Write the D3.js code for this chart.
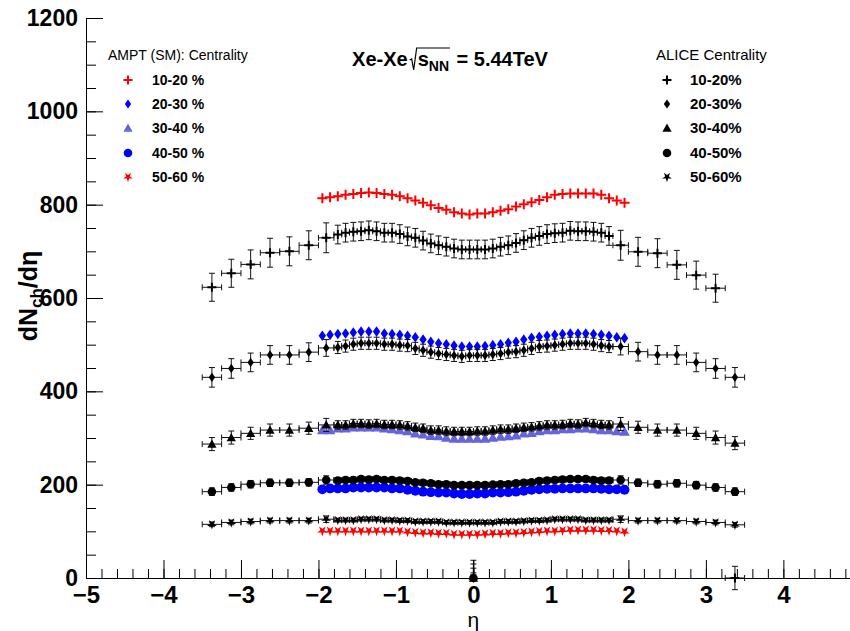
<!DOCTYPE html>
<html>
<head>
<meta charset="utf-8">
<script src="https://cdn.jsdelivr.net/npm/d3@7"></script>
<style>
  html, body { margin: 0; padding: 0; background: #fff; }
  svg { display: block; font-family: "Liberation Sans", Arial, sans-serif; }
</style>
</head>
<body>
<div id="chart"></div>
<script>
// pseudorapidity bins
const etaAmpt = [-1.95,-1.85,-1.75,-1.65,-1.55,-1.45,-1.35,-1.25,-1.15,-1.05,-0.95,-0.85,-0.75,-0.65,-0.55,-0.45,-0.35,-0.25,-0.15,-0.05,
                 0.05,0.15,0.25,0.35,0.45,0.55,0.65,0.75,0.85,0.95,1.05,1.15,1.25,1.35,1.45,1.55,1.65,1.75,1.85,1.95];
const etaAlice = [-3.375,-3.125,-2.875,-2.625,-2.375,-2.125,-1.9,
                  -1.75,-1.65,-1.55,-1.45,-1.35,-1.25,-1.15,-1.05,-0.95,-0.85,-0.75,-0.65,-0.55,-0.45,-0.35,-0.25,-0.15,-0.05,
                  0.05,0.15,0.25,0.35,0.45,0.55,0.65,0.75,0.85,0.95,1.05,1.15,1.25,1.35,1.45,1.55,1.65,1.75,
                  1.9,2.125,2.375,2.625,2.875,3.125,3.375];
const exAlice = [0.125,0.125,0.125,0.125,0.125,0.125,0.1,
                 0.05,0.05,0.05,0.05,0.05,0.05,0.05,0.05,0.05,0.05,0.05,0.05,0.05,0.05,0.05,0.05,0.05,0.05,
                 0.05,0.05,0.05,0.05,0.05,0.05,0.05,0.05,0.05,0.05,0.05,0.05,0.05,0.05,0.05,0.05,0.05,0.05,
                 0.1,0.125,0.125,0.125,0.125,0.125,0.125];

// AMPT (SM)
const ampt1020 = [814,816,818,821,823,825,826,825,823,821,818,814,809,804,799,793,789,784,781,779,
                  781,781,784,787,790,796,801,805,810,816,821,823,824,824,824,824,821,814,809,804];
const ampt2030 = [519,521,523,524,526,528,528,528,524,523,521,519,516,511,506,503,501,498,496,496,
                  496,497,499,501,504,506,511,515,517,519,521,523,524,524,524,523,521,519,516,514];
const ampt3040 = [317,317,321,321,323,323,323,323,321,319,317,315,310,308,305,304,301,299,299,299,
                  299,299,301,303,304,306,310,311,315,317,317,319,319,321,321,319,317,317,315,314];
const ampt4050 = [190,192,192,192,194,194,194,194,194,192,192,189,187,185,184,183,183,181,180,180,
                  181,181,183,183,184,185,187,189,190,191,191,192,192,192,192,192,191,190,190,189];
const ampt5060 = [101,101,101,101,101,101,101,101,101,101,101,99,98,97,97,96,96,94,94,94,
                  94,95,96,96,97,97,98,99,100,101,101,102,103,103,103,103,102,102,101,99];

// ALICE
const alice1020 = [623,653,672,697,700,713,729,
                   736,740,742,743,745,743,740,740,737,732,729,723,717,713,710,706,704,704,
                   704,704,706,710,713,718,724,729,733,737,739,740,744,743,743,742,740,733,
                   713,699,696,671,649,621,0];
const err1020 = [30,30,31,31,31,31,32,
                 20,20,20,20,20,20,20,20,20,20,20,20,20,20,20,20,20,20,
                 20,20,20,20,20,20,20,20,20,20,20,20,20,20,20,20,20,20,
                 32,31,31,31,30,30,25];
const alice2030 = [430,449,462,478,478,484,493,
                   494,497,501,503,503,503,501,501,499,498,492,488,484,481,479,477,475,477,
                   477,477,479,481,484,485,488,492,496,497,499,501,503,503,503,501,498,496,
                   496,485,478,478,462,449,430];
const err2030 = [21,21,20,20,20,20,18,
                 13,13,13,13,13,13,13,13,13,13,13,13,13,13,13,13,13,13,
                 13,13,13,13,13,13,13,13,13,13,13,13,13,13,13,13,13,13,
                 18,20,20,20,20,21,21];
const alice3040 = [287,301,310,317,317,321,328,
                   328,328,331,331,330,331,329,329,328,326,323,321,317,317,315,314,314,314,
                   315,315,317,319,319,321,323,324,326,328,328,329,331,330,333,331,329,328,
                   330,323,317,317,310,301,289];
const err3040 = [14,14,13,13,13,13,14,
                 9,9,9,9,9,9,9,9,9,9,9,9,9,9,9,9,9,9,
                 9,9,9,9,9,9,9,9,9,9,9,9,9,9,9,9,9,9,
                 14,13,13,13,13,14,14];
const alice4050 = [185,194,201,204,204,205,210,
                   209,210,210,212,211,212,210,210,209,208,205,204,203,201,201,199,199,199,
                   199,199,200,201,201,203,204,205,208,209,210,211,212,212,212,210,209,209,
                   210,204,201,203,199,194,185];
const err4050 = [8,8,8,8,8,8,9,
                 6,6,6,6,6,6,6,6,6,6,6,6,6,6,6,6,6,6,
                 6,6,6,6,6,6,6,6,6,6,6,6,6,6,6,6,6,6,
                 9,8,8,8,8,8,8];
const alice5060 = [115,119,121,123,123,123,126,
                   124,124,124,126,126,126,124,124,123,123,121,121,121,121,119,119,119,119,
                   119,119,119,121,121,121,122,123,123,124,126,126,126,126,124,124,124,124,
                   126,123,123,123,121,119,114];
const err5060 = [5,5,5,5,5,5,7,
                 4,4,4,4,4,4,4,4,4,4,4,4,4,4,4,4,4,4,
                 4,4,4,4,4,4,4,4,4,4,4,4,4,4,4,4,4,4,
                 7,5,5,5,5,5,5];

// empty ALICE points sitting on eta = 0
const zeroEta = [0, 0, 0, 0];
const zeroVal = [0, 0, 0, 0];
const zeroErr = [38, 30, 21, 11];
const zeroSeries = ['20-30%', '30-40%', '40-50%', '50-60%'];

const amptLabels = ['10-20 %', '20-30 %', '30-40 %', '40-50 %', '50-60 %'];
const aliceLabels = ['10-20%', '20-30%', '30-40%', '40-50%', '50-60%'];
const xTicks = [-5, -4, -3, -2, -1, 0, 1, 2, 3, 4];
const yTicks = [0, 200, 400, 600, 800, 1000, 1200];

const w = 850;
const h = 631;
const markers = ['plus', 'diamond', 'triangle', 'circle', 'star'];
const amptColors = ['#ff0000', '#0000ff', '#6464dc', '#0000ff', '#ff0000'];

const svg = d3.select('#chart').append('svg')
  .attr('width', w).attr('height', h);

const x = d3.scaleLinear().domain([-5, 4.86]).range([86, 850]);
const y = d3.scaleLinear().domain([0, 1200]).range([578, 18]);

function marker(g, type, color, big) {
  const s = big ? 1.15 : 1;
  if (type === 'plus') {
    const a = (big ? 5 : 4.5);
    g.append('path').attr('d', `M${-a},0H${a}M0,${-a}V${a}`)
      .attr('stroke', color).attr('stroke-width', 2).attr('fill', 'none');
  } else if (type === 'diamond') {
    const dw = 3.2 * s, dh = 4.6 * s;
    g.append('path').attr('d', `M0,${-dh}L${dw},0L0,${dh}L${-dw},0Z`).attr('fill', color);
  } else if (type === 'triangle') {
    const t = 4.6 * s;
    g.append('path').attr('d', `M0,${-t}L${t},${t * 0.8}L${-t},${t * 0.8}Z`).attr('fill', color);
  } else if (type === 'circle') {
    g.append('circle').attr('r', 4.3 * s).attr('fill', color);
  } else if (type === 'star') {
    g.append('path').attr('d', d3.symbol(d3.symbolStar, 30 * s)())
      .attr('transform', 'rotate(180)').attr('fill', color);
  }
}

function drawAmpt(vals, idx) {
  const g = svg.append('g');
  etaAmpt.forEach((e, i) => {
    const p = g.append('g').attr('transform', `translate(${x(e)},${y(vals[i])})`);
    marker(p, markers[idx], amptColors[idx], true);
  });
}

function drawAlice(vals, errs, idx) {
  const g = svg.append('g');
  const eb = g.append('g').attr('stroke', '#111').attr('stroke-width', 1).attr('fill', 'none');
  etaAlice.forEach((e, i) => {
    const cx = x(e), cy = y(vals[i]);
    const x0 = x(e - exAlice[i]), x1 = x(e + exAlice[i]);
    const y0 = y(vals[i] - errs[i]), y1 = y(vals[i] + errs[i]);
    eb.append('path').attr('d',
      `M${x0},${cy}H${x1}M${x0},${cy - 3}V${cy + 3}M${x1},${cy - 3}V${cy + 3}` +
      `M${cx},${y0}V${y1}M${cx - 3},${y0}H${cx + 3}M${cx - 3},${y1}H${cx + 3}`);
  });
  etaAlice.forEach((e, i) => {
    const p = g.append('g').attr('transform', `translate(${x(e)},${y(vals[i])})`);
    marker(p, markers[idx], '#000', false);
  });
}

drawAmpt(ampt1020, 0);
drawAmpt(ampt2030, 1);
drawAmpt(ampt3040, 2);
drawAmpt(ampt4050, 3);
drawAmpt(ampt5060, 4);
drawAlice(alice1020, err1020, 0);
drawAlice(alice2030, err2030, 1);
drawAlice(alice3040, err3040, 2);
drawAlice(alice4050, err4050, 3);
drawAlice(alice5060, err5060, 4);

// zero points at eta = 0
zeroEta.forEach((e, i) => {
  const cx = x(e), cy = y(zeroVal[i]), yt = y(zeroVal[i] + zeroErr[i]);
  svg.append('path').attr('d', `M${cx},${cy}V${yt}M${cx - 3},${yt}H${cx + 3}`)
    .attr('stroke', '#111').attr('fill', 'none');
  const p = svg.append('g').attr('transform', `translate(${cx},${cy})`);
  marker(p, markers[aliceLabels.indexOf(zeroSeries[i])], '#000', false);
});

// axes
const xAxis = svg.append('g').attr('transform', `translate(0,${y(0)})`)
  .call(d3.axisBottom(x).tickValues(xTicks).tickSize(-18).tickSizeOuter(0).tickPadding(8).tickFormat(d3.format('d')));
svg.append('g').attr('transform', `translate(0,${y(0)})`)
  .call(d3.axisBottom(x).tickValues(d3.range(-5, 4.85, 0.2)).tickSize(-9).tickSizeOuter(0).tickFormat(''));
const yAxis = svg.append('g').attr('transform', `translate(${x(-5)},0)`)
  .call(d3.axisLeft(y).tickValues(yTicks).tickSize(-17).tickSizeOuter(0).tickPadding(8).tickFormat(d3.format('d')));
svg.append('g').attr('transform', `translate(${x(-5)},0)`)
  .call(d3.axisLeft(y).tickValues(d3.range(0, 1201, 50)).tickSize(-10).tickSizeOuter(0).tickFormat(''));

svg.selectAll('.domain').attr('stroke', '#000');
svg.selectAll('.tick line').attr('stroke', '#000');
xAxis.selectAll('text').attr('fill', '#000').style('font-size', '24px').style('font-weight', 'bold')
  .style('font-family', '"Liberation Sans", Arial, sans-serif');
yAxis.selectAll('text').attr('fill', '#000').style('font-size', '23px').style('font-weight', 'bold')
  .style('font-family', '"Liberation Sans", Arial, sans-serif');

// axis titles
svg.append('text').attr('x', x(0)).attr('y', 627).attr('text-anchor', 'middle')
  .style('font-size', '21px').text('\u03b7');

const yt = svg.append('text').attr('transform', 'translate(37,296) rotate(-90)')
  .attr('text-anchor', 'middle').style('font-size', '25px').style('font-weight', 'bold');
yt.append('tspan').text('dN');
yt.append('tspan').attr('dy', 5).style('font-size', '17px').text('ch');
yt.append('tspan').attr('dy', -5).text('/d\u03b7');

// title
const tg = svg.append('g');
const tStyle = t => t.style('font-size', '20px').style('font-weight', 'bold');
const base = 66;
const t1 = tg.append('text').attr('x', 0).attr('y', base).text('Xe-Xe').call(tStyle);
const w1 = t1.node().getComputedTextLength();
const rx = w1 + 2;
const t2 = tg.append('text').attr('x', rx + 8).attr('y', base).call(tStyle);
t2.append('tspan').text('s');
t2.append('tspan').attr('dy', 5).style('font-size', '14px').text('NN');
const w2 = t2.node().getComputedTextLength();
tg.append('path')
  .attr('d', `M${rx},${base - 6}L${rx + 2},${base - 7}L${rx + 4},${base + 4}L${rx + 7},${base - 18}H${rx + 9 + w2}`)
  .attr('stroke', '#000').attr('stroke-width', 1.2).attr('fill', 'none');
const t3 = tg.append('text').attr('x', rx + 10 + w2).attr('y', base).text(' = 5.44TeV').call(tStyle)
  .attr('xml:space', 'preserve').style('white-space', 'pre');
const total = rx + 10 + w2 + t3.node().getComputedTextLength();
tg.attr('transform', `translate(${450 - total / 2},0)`);

// legends
const legY = [80, 104, 128, 153, 177];
svg.append('text').attr('x', 108).attr('y', 60).style('font-size', '14px').text('AMPT (SM): Centrality');
svg.append('text').attr('x', 656).attr('y', 60).style('font-size', '15px').text('ALICE Centrality');
amptLabels.forEach((lab, i) => {
  const p = svg.append('g').attr('transform', `translate(128,${legY[i]})`);
  marker(p, markers[i], amptColors[i], false);
  svg.append('text').attr('x', 152).attr('y', legY[i] + 5)
    .style('font-size', '14px').style('font-weight', 'bold').text(lab);
});
aliceLabels.forEach((lab, i) => {
  const p = svg.append('g').attr('transform', `translate(667,${legY[i]})`);
  marker(p, markers[i], '#000', false);
  svg.append('text').attr('x', 690).attr('y', legY[i] + 5)
    .style('font-size', '15px').style('font-weight', 'bold').text(lab);
});
</script>
</body>
</html>
